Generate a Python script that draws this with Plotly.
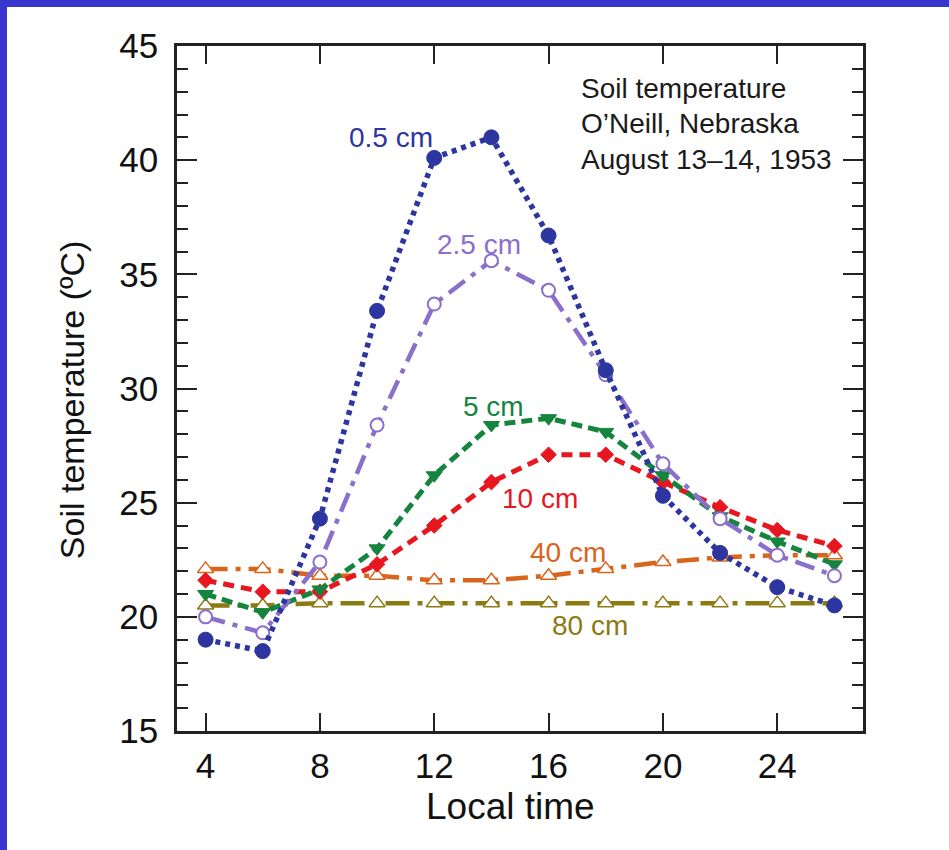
import plotly.graph_objects as go

# ---- data ----
hours = [4, 6, 8, 10, 12, 14, 16, 18, 20, 22, 24, 26]
t_05cm = [19.0, 18.5, 24.3, 33.4, 40.1, 41.0, 36.7, 30.8, 25.3, 22.8, 21.3, 20.5]
t_25cm = [20.0, 19.3, 22.4, 28.4, 33.7, 35.6, 34.3, 30.6, 26.7, 24.3, 22.7, 21.8]
t_5cm = [21.0, 20.2, 21.2, 23.0, 26.2, 28.4, 28.7, 28.1, 26.2, 24.4, 23.3, 22.3]
t_10cm = [21.6, 21.1, 21.1, 22.3, 24.0, 25.9, 27.1, 27.1, 25.9, 24.8, 23.8, 23.1]
t_40cm = [22.1, 22.1, 21.8, 21.8, 21.6, 21.6, 21.8, 22.1, 22.4, 22.6, 22.7, 22.7]
t_80cm = [20.5, 20.5, 20.6, 20.6, 20.6, 20.6, 20.6, 20.6, 20.6, 20.6, 20.6, 20.6]
x_ticks = [4, 8, 12, 16, 20, 24]
y_ticks = [15, 20, 25, 30, 35, 40, 45]

FONT = "Liberation Sans, Arial, Helvetica, sans-serif"
C_BLUE = "#2d359e"
C_PURPLE = "#8a6fcb"
C_GREEN = "#15843f"
C_RED = "#e8161f"
C_ORANGE = "#d9641c"
C_OLIVE = "#8c7a12"

fig = go.Figure()

def add(y, color, dash, width, symbol, msize, fill, mline):
    fig.add_trace(go.Scatter(
        x=hours, y=y, mode="lines+markers",
        line=dict(color=color, width=width, dash=dash),
        marker=dict(symbol=symbol, size=msize, color=fill,
                    line=dict(color=color, width=mline)),
        showlegend=False, hoverinfo="skip"))

add(t_80cm, C_OLIVE, "24px,8px,5px,8px", 4.5, "triangle-up", 14, "white", 1.5)
add(t_40cm, C_ORANGE, "22px,8px,5px,8px", 4.5, "triangle-up", 14, "white", 1.5)
add(t_10cm, C_RED, "11px,7px", 5, "diamond", 12, C_RED, 1)
add(t_5cm, C_GREEN, "11px,6px", 5, "triangle-down", 14, C_GREEN, 1)
add(t_25cm, C_PURPLE, "20px,8px,5px,8px", 4.5, "circle", 13, "white", 2)
add(t_05cm, C_BLUE, "5px,5px", 5.5, "circle", 15, C_BLUE, 1)

series_labels = [
    ("0.5 cm", 10.49, 41.0, C_BLUE),
    ("2.5 cm", 13.57, 36.3, C_PURPLE),
    ("5 cm", 14.06, 29.2, C_GREEN),
    ("10 cm", 15.71, 25.2, C_RED),
    ("40 cm", 16.69, 22.8, C_ORANGE),
    ("80 cm", 17.46, 19.6, C_OLIVE),
]
for txt, xx, yy, col in series_labels:
    fig.add_annotation(x=xx, y=yy, text=txt, showarrow=False,
                       font=dict(family=FONT, size=28, color=col),
                       xanchor="center", yanchor="middle")

info_lines = ["Soil temperature", "O\u2019Neill, Nebraska", "August 13\u201314, 1953"]
info_y = [43.15, 41.6, 40.05]
for txt, yy in zip(info_lines, info_y):
    fig.add_annotation(x=17.07, y=yy, text=txt, showarrow=False,
                       font=dict(family=FONT, size=28, color="#1a1a1a"),
                       xanchor="left", yanchor="middle")

# axis titles
fig.add_annotation(x=0.486, y=-0.1095, xref="paper", yref="paper",
                   text="Local time", showarrow=False,
                   font=dict(family=FONT, size=37, color="#111111"),
                   xanchor="center", yanchor="middle")
fig.add_annotation(x=-0.153, y=0.483, xref="paper", yref="paper",
                   text="Soil temperature (\u00baC)", showarrow=False, textangle=-90,
                   font=dict(family=FONT, size=34, color="#111111"),
                   xanchor="center", yanchor="middle")

# blue frame bands (top and left)
W, H = 949, 850
L, R, T, B = 177, 86, 46, 119
pw, ph = W - L - R, H - T - B
def px_to_paper_x(px):
    return (px - L) / pw
def px_to_paper_y(py):
    return (H - B - py) / ph
BORDER = "#3835cc"
fig.add_shape(type="rect", xref="paper", yref="paper",
              x0=px_to_paper_x(0), x1=px_to_paper_x(W),
              y0=px_to_paper_y(7), y1=px_to_paper_y(0),
              fillcolor=BORDER, line=dict(width=0), layer="below")
fig.add_shape(type="rect", xref="paper", yref="paper",
              x0=px_to_paper_x(0), x1=px_to_paper_x(7),
              y0=px_to_paper_y(H), y1=px_to_paper_y(0),
              fillcolor=BORDER, line=dict(width=0), layer="below")

axis_common = dict(showline=True, linecolor="#222222", linewidth=2.5,
                   mirror="allticks", ticks="inside", tickcolor="#222222",
                   tickwidth=2, showgrid=False, zeroline=False,
                   tickfont=dict(family=FONT, size=35, color="#111111"))

fig.update_xaxes(range=[3, 27], tickvals=x_ticks, ticklen=18,
                 ticklabelstandoff=2, **axis_common)
fig.update_yaxes(range=[15, 45], tickvals=y_ticks, ticklen=20,
                 ticklabelstandoff=9,
                 minor=dict(dtick=1, tick0=15, ticks="inside", ticklen=11,
                            tickcolor="#222222", tickwidth=2, showgrid=False),
                 **axis_common)

fig.update_layout(width=W, height=H,
                  margin=dict(l=L, r=R, t=T, b=B, autoexpand=False),
                  paper_bgcolor="white", plot_bgcolor="white",
                  font=dict(family=FONT))

fig.write_html("out.html")
